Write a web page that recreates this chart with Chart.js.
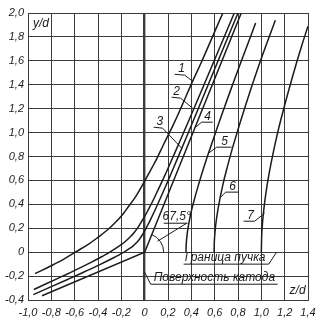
<!DOCTYPE html>
<html>
<head>
<meta charset="utf-8">
<script src="https://cdn.jsdelivr.net/npm/chart.js@4.4.1/dist/chart.umd.min.js"></script>
<style>
  html, body { margin: 0; padding: 0; background: #fff; }
</style>
</head>
<body>
<canvas id="chart" width="327" height="324"></canvas>
<script>
// tick labels (decimal comma, bottom-to-top / left-to-right)
const zTickLabels = ['-1,0', '-0,8', '-0,6', '-0,4', '-0,2', '0', '0,2', '0,4', '0,6', '0,8', '1,0', '1,2', '1,4'];
const yTickLabels = ['-0,4', '-0,2', '0', '0,2', '0,4', '0,6', '0,8', '1,0', '1,2', '1,4', '1,6', '1,8', '2,0'];

// equipotentials, [z/d, y/d]
const curve1 = [[-0.94, -0.18], [-0.89, -0.157], [-0.78, -0.103], [-0.70, -0.062], [-0.595, 0], [-0.48, 0.068],
  [-0.417, 0.112], [-0.32, 0.185], [-0.25, 0.25], [-0.185, 0.32], [-0.14, 0.38], [-0.08, 0.46], [0, 0.595],
  [0.062, 0.705], [0.103, 0.78], [0.157, 0.89], [0.25, 1.075], [0.314, 1.213], [0.40, 1.405], [0.484, 1.584],
  [0.594, 1.83], [0.67, 2.0]];
const curve2 = [[-0.95, -0.312], [-0.748, -0.221], [-0.638, -0.171], [-0.447, -0.079], [-0.355, -0.031], [-0.299, 0],
  [-0.21, 0.056], [-0.161, 0.093], [-0.126, 0.126], [-0.093, 0.161], [-0.056, 0.21], [0, 0.299], [0.031, 0.355],
  [0.079, 0.447], [0.171, 0.638], [0.221, 0.748], [0.312, 0.95], [0.437, 1.235], [0.622, 1.662], [0.768, 2.0]];
const curve3 = [[-0.954, -0.355], [-0.656, -0.226], [-0.547, -0.178], [-0.38, -0.102], [-0.266, -0.047], [-0.211, -0.018],
  [-0.178, 0], [-0.125, 0.033], [-0.096, 0.055], [-0.075, 0.075], [-0.055, 0.096], [-0.033, 0.125], [0, 0.178],
  [0.018, 0.211], [0.047, 0.266], [0.102, 0.38], [0.178, 0.547], [0.226, 0.656], [0.355, 0.954], [0.469, 1.223],
  [0.65, 1.649], [0.80, 2.0]];
const curve4 = [[-0.88, -0.365], [0, 0], [0.828, 2.0]];
const curve5 = [[0.354, 0], [0.356, 0.063], [0.362, 0.132], [0.374, 0.216], [0.398, 0.334], [0.42, 0.42], [0.455, 0.542],
  [0.517, 0.739], [0.585, 0.935], [0.657, 1.139], [0.777, 1.462], [0.873, 1.713], [0.951, 1.916]];
const curve6 = [[0.595, 0], [0.598, 0.105], [0.608, 0.221], [0.629, 0.363], [0.67, 0.562], [0.707, 0.707], [0.765, 0.912],
  [0.87, 1.243], [0.983, 1.573], [1.12, 1.94]];
const curve7 = [[1.0, 0], [1.005, 0.177], [1.023, 0.372], [1.058, 0.611], [1.127, 0.945], [1.189, 1.189], [1.287, 1.534],
  [1.344, 1.72], [1.40, 1.89]];

const INK = '#1b1b1b';
const GRID = '#3c3c3c';
const FONT = '"Liberation Sans", Arial, sans-serif';

// curve numbers with their leader lines (data units)
const curveNotes = [
  { text: '1', at: [0.317, 1.538], leader: [[0.257, 1.488], [0.343, 1.480], [0.411, 1.430]] },
  { text: '2', at: [0.274, 1.346], leader: [[0.231, 1.296], [0.308, 1.288], [0.411, 1.204]] },
  { text: '3', at: [0.129, 1.095], leader: [[0.077, 1.045], [0.154, 1.037], [0.317, 0.870]] },
  { text: '4', at: [0.540, 1.137], leader: [[0.583, 1.087], [0.488, 1.087], [0.437, 1.045]] },
  { text: '5', at: [0.686, 0.928], leader: [[0.746, 0.878], [0.617, 0.878], [0.548, 0.828]] },
  { text: '6', at: [0.754, 0.552], leader: [[0.805, 0.502], [0.694, 0.502], [0.651, 0.460]] },
  { text: '7', at: [0.908, 0.309], leader: [[0.848, 0.259], [0.943, 0.259], [1.028, 0.326]] }
];

const notesPlugin = {
  id: 'notes',
  afterDatasetsDraw(chart) {
    const { ctx, scales: { x, y } } = chart;
    const px = (p) => [x.getPixelForValue(p[0]), y.getPixelForValue(p[1])];
    const poly = (pts) => {
      ctx.beginPath();
      pts.map(px).forEach((p, i) => i ? ctx.lineTo(p[0], p[1]) : ctx.moveTo(p[0], p[1]));
      ctx.stroke();
    };
    const text = (s, p, size, align) => {
      const q = px(p);
      ctx.font = 'italic ' + size + 'px ' + FONT;
      ctx.textAlign = align || 'center';
      ctx.textBaseline = 'middle';
      ctx.fillText(s, q[0], q[1]);
    };

    ctx.save();
    ctx.strokeStyle = INK;
    ctx.fillStyle = INK;
    ctx.lineWidth = 1;

    curveNotes.forEach(n => {
      poly(n.leader);
      text(n.text, n.at, 12);
    });

    // electrode angle
    const o = px([0, 0]);
    ctx.beginPath();
    ctx.arc(o[0], o[1], 19, -67.5 * Math.PI / 180, 0);
    ctx.stroke();
    text('67,5°', [0.274, 0.293], 12);
    poly([[0.163, 0.242], [0.368, 0.242]]);
    poly([[0.360, 0.242], [0.111, 0.092]]);

    text('Граница пучка', [0.343, -0.05], 12, 'left');
    poly([[0.334, -0.10], [1.063, -0.10], [1.131, 0]]);

    text('Поверхность катода', [0.077, -0.209], 12, 'left');
    poly([[0, -0.168], [0.051, -0.268], [1.14, -0.268]]);

    text('y/d', [-0.889, 1.915], 12);
    text('z/d', [1.311, -0.326], 12);
    ctx.restore();
  }
};

const curve = (data, tension) => ({
  data: data.map(p => ({ x: p[0], y: p[1] })),
  showLine: true,
  borderColor: INK,
  borderWidth: 1.5,
  pointRadius: 0,
  tension: tension
});

new Chart(document.getElementById('chart'), {
  type: 'scatter',
  data: {
    datasets: [
      curve(curve1, 0.4), curve(curve2, 0.4), curve(curve3, 0.4), curve(curve4, 0),
      curve(curve5, 0.4), curve(curve6, 0.4), curve(curve7, 0.4)
    ]
  },
  options: {
    responsive: false,
    animation: false,
    devicePixelRatio: 1,
    layout: { padding: { top: 13, right: 19, left: 0, bottom: 0 } },
    plugins: { legend: { display: false }, tooltip: { enabled: false } },
    scales: {
      x: {
        type: 'linear',
        min: -1.0,
        max: 1.4,
        afterFit: (s) => { s.height = 24; },
        border: { display: true, color: GRID, width: 1 },
        grid: {
          color: GRID,
          drawTicks: false,
          lineWidth: (c) => (c.tick && Math.abs(c.tick.value) < 1e-9 ? 2.4 : 1)
        },
        ticks: {
          stepSize: 0.2,
          autoSkip: false,
          maxRotation: 0,
          padding: 6,
          color: INK,
          font: { family: FONT, size: 11, style: 'italic' },
          callback: (v, i) => zTickLabels[i]
        }
      },
      y: {
        type: 'linear',
        min: -0.4,
        max: 2.0,
        afterFit: (s) => { s.width = 28; },
        border: { display: true, color: GRID, width: 1 },
        grid: { color: GRID, drawTicks: false, lineWidth: 1 },
        ticks: {
          stepSize: 0.2,
          autoSkip: false,
          padding: 4,
          color: INK,
          font: { family: FONT, size: 11, style: 'italic' },
          callback: (v, i) => yTickLabels[i]
        }
      }
    }
  },
  plugins: [notesPlugin]
});
</script>
</body>
</html>
